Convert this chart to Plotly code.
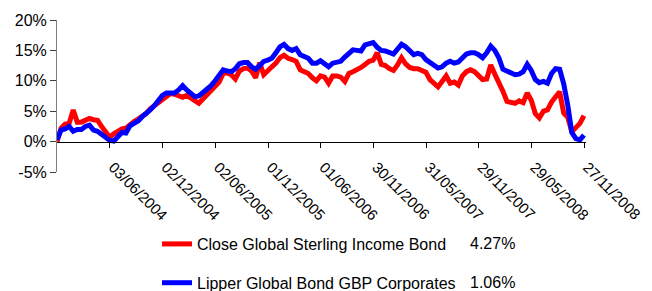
import pandas as pd
import plotly.graph_objects as go

start_date = "2003-12-03"
step = "14D"

close_fund = [0.0, 2.2, 2.9, 3.0, 5.2, 3.2, 3.2, 3.5, 3.8, 3.6,
              3.5, 2.5, 1.6, 0.7, 1.3, 1.8, 2.1, 2.2, 2.9, 3.3,
              3.7, 4.1, 4.6, 5.4, 5.9, 6.4, 6.8, 7.3, 7.9, 7.8,
              7.6, 7.3, 7.6, 7.2, 6.7, 6.3, 7.0, 7.7, 8.5, 9.2,
              9.8, 11.2, 11.3, 11.0, 10.3, 11.6, 12.0, 12.1, 11.6, 10.5,
              13.0, 11.0, 11.8, 12.3, 12.9, 13.8, 14.2, 13.7, 13.5, 13.2,
              11.8, 11.6, 11.2, 10.5, 10.0, 10.8, 10.6, 9.6, 10.8, 10.8,
              10.6, 9.9, 11.2, 11.5, 11.8, 12.2, 12.7, 13.2, 13.4, 14.6,
              12.7, 12.5, 12.0, 11.7, 12.6, 13.8, 12.8, 12.2, 12.0, 12.0,
              11.7, 11.4, 10.2, 9.5, 9.0, 9.9, 10.8, 9.6, 9.8, 9.3,
              10.8, 11.5, 11.8, 11.5, 10.8, 10.2, 10.3, 12.6, 11.1, 9.8,
              8.3, 6.6, 6.5, 6.3, 6.7, 6.4, 8.0, 6.8, 4.6, 3.9,
              5.0, 5.2, 6.5, 7.4, 8.2, 4.7, 4.0, 1.6, 2.2, 3.0,
              4.27]

sector = [0.3, 1.9, 2.1, 2.5, 1.7, 2.0, 2.0, 2.5, 2.7, 1.9,
          1.7, 1.2, 0.5, 0.2, 0.1, 0.9, 1.5, 1.4, 2.6, 3.0,
          3.4, 4.1, 4.6, 5.2, 5.9, 6.8, 7.6, 8.0, 8.1, 8.0,
          8.5, 9.2, 8.5, 7.9, 7.4, 7.5, 8.0, 8.5, 9.2, 10.0,
          10.9, 11.8, 11.6, 11.5, 12.0, 12.8, 13.0, 13.0, 12.3, 11.9,
          12.5, 13.2, 13.4, 13.7, 14.6, 15.6, 16.0, 15.3, 15.0, 15.3,
          14.3, 14.0, 13.7, 12.9, 12.9, 13.3, 12.8, 12.3, 12.9, 13.1,
          13.2, 13.9, 14.5, 15.1, 15.0, 14.9, 15.9, 16.2, 16.3, 15.5,
          15.0, 14.9, 14.6, 14.4, 15.2, 16.0, 15.6, 14.9, 14.3, 14.5,
          14.3, 13.5, 13.0, 12.4, 12.1, 12.3, 12.9, 13.2, 12.9, 13.1,
          13.9, 14.4, 14.6, 14.6, 14.3, 13.8, 14.6, 15.7, 15.0, 13.8,
          11.9, 11.6, 11.3, 11.0, 11.1, 11.5, 12.7, 11.7, 10.2, 9.7,
          9.9, 9.6, 11.2, 12.0, 11.9, 9.5, 6.0, 1.5, 0.5, 0.3,
          1.06]

series_names = ["Close Global Sterling Income Bond", "Lipper Global Bond GBP Corporates"]
series_colors = ["#FF0000", "#0000FF"]
final_labels = ["4.27%", "1.06%"]

tick_dates = ["2004-06-03", "2004-12-02", "2005-06-02", "2005-12-01", "2006-06-01",
              "2006-11-30", "2007-05-31", "2007-11-29", "2008-05-29", "2008-11-27"]
y_ticks = [-5, 0, 5, 10, 15, 20]
y_tick_text = ["-5%", "0%", "5%", "10%", "15%", "20%"]

dates = pd.date_range(start=start_date, periods=len(close_fund), freq=step)

FONT = "Arial, 'Liberation Sans', sans-serif"

fig = go.Figure()
for name, vals, col in zip(series_names, [close_fund, sector], series_colors):
    fig.add_trace(go.Scatter(x=dates, y=vals, mode="lines", name=name,
                             legendgroup=name,
                             line=dict(color=col, width=5)))

fig.update_layout(
    width=652, height=291,
    margin=dict(l=57, r=66, t=20, b=119, autoexpand=False),
    paper_bgcolor="white", plot_bgcolor="white",
    font=dict(family=FONT, color="black"),
    showlegend=True,
    legend=dict(x=(157 - 57) / 529, xanchor="left",
                y=(172 - 227) / 152, yanchor="top",
                font=dict(size=16, family=FONT, color="black"),
                tracegroupgap=15, bgcolor="rgba(0,0,0,0)"),
    xaxis=dict(type="date", range=["2003-12-03", "2008-12-03"],
               anchor="free", position=0.2,
               showline=True, linecolor="black", linewidth=1,
               ticks="outside", ticklen=5, tickcolor="black", tickwidth=1,
               tickvals=tick_dates, tickformat="%d/%m/%Y",
               tickangle=45, tickfont=dict(size=15, family=FONT),
               ticklabelstandoff=5, ticklabelshift=3,
               showgrid=False, zeroline=False),
    yaxis=dict(range=[-5, 20], tickvals=y_ticks, ticktext=y_tick_text,
               showline=True, linecolor="#808080", linewidth=1,
               ticks="outside", ticklen=6, tickcolor="#404040",
               tickfont=dict(size=16, family=FONT),
               showgrid=False, zeroline=False),
)

for i, lab in enumerate(final_labels):
    fig.add_annotation(xref="paper", yref="paper",
                       x=(517 - 57) / 529, y=(172 - (243 + 39 * i)) / 152,
                       xanchor="right", yanchor="middle", showarrow=False,
                       text=lab, font=dict(size=16, family=FONT, color="black"))

fig.write_html("out.html",
               config={"displayModeBar": False},
               post_script="document.body.style.margin='0px';document.body.style.overflow='hidden';")
